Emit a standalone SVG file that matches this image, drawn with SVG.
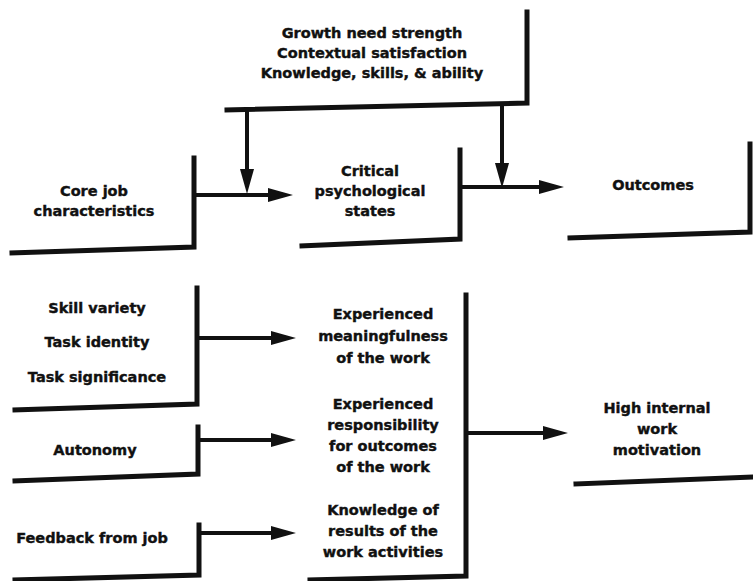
<svg xmlns="http://www.w3.org/2000/svg" width="753" height="581" viewBox="0 0 753 581">
<defs>
<style>
.t{font-family:"DejaVu Sans","Liberation Sans",sans-serif;font-weight:bold;font-size:14.5px;fill:#111;stroke:#111;stroke-width:0.4;text-anchor:middle}
.b{fill:none;stroke:#111;stroke-width:5;stroke-linecap:square}
.c{fill:none;stroke:#111;stroke-width:4}
</style>
<marker id="ah" markerUnits="userSpaceOnUse" markerWidth="26" markerHeight="16" refX="12" refY="7" orient="auto">
<path d="M0,0 L25,7 L0,14 z" fill="#111"/>
</marker>
</defs>
<rect width="753" height="581" fill="#fff"/>
<g id="moderators">
<path class="b" d="M527,12 L527,103 L227,110"/>
<text class="t" x="372" y="38">Growth need strength</text>
<text class="t" x="372" y="58">Contextual satisfaction</text>
<text class="t" x="372" y="78">Knowledge, skills, &amp; ability</text>
</g>
<g id="core">
<path class="b" d="M194,158 L194,247 L12,253"/>
<text class="t" x="94" y="196">Core job</text>
<text class="t" x="94" y="216">characteristics</text>
</g>
<g id="critical">
<path class="b" d="M460,150 L460,239 L302,246"/>
<text class="t" x="370" y="176">Critical</text>
<text class="t" x="370" y="196">psychological</text>
<text class="t" x="370" y="216">states</text>
</g>
<g id="outcomes">
<path class="b" d="M750,144 L750,232 L570,238"/>
<text class="t" x="653" y="190">Outcomes</text>
</g>
<g id="skills">
<path class="b" d="M197,288 L197,404 L15,410"/>
<text class="t" x="97" y="313">Skill variety</text>
<text class="t" x="97" y="347">Task identity</text>
<text class="t" x="97" y="382">Task significance</text>
</g>
<g id="autonomy">
<path class="b" d="M198,427 L198,474 L15,481"/>
<text class="t" x="95" y="455">Autonomy</text>
</g>
<g id="feedback">
<path class="b" d="M199,525 L199,575 L15,580"/>
<text class="t" x="92" y="543">Feedback from job</text>
</g>
<g id="states">
<path class="b" d="M466,295 L466,576 L310,580"/>
<text class="t" x="383" y="319">Experienced</text>
<text class="t" x="383" y="341">meaningfulness</text>
<text class="t" x="383" y="363">of the work</text>
<text class="t" x="383" y="409">Experienced</text>
<text class="t" x="383" y="430">responsibility</text>
<text class="t" x="383" y="451">for outcomes</text>
<text class="t" x="383" y="472">of the work</text>
<text class="t" x="383" y="515">Knowledge of</text>
<text class="t" x="383" y="536">results of the</text>
<text class="t" x="383" y="557">work activities</text>
</g>
<g id="motivation">
<path class="b" d="M576,484 L752,477"/>
<text class="t" x="657" y="413">High internal</text>
<text class="t" x="657" y="434">work</text>
<text class="t" x="657" y="455">motivation</text>
</g>
<g id="connectors">
<line class="c" x1="194" y1="195" x2="280" y2="195" marker-end="url(#ah)"/>
<line class="c" x1="247" y1="110" x2="247" y2="181" marker-end="url(#ah)"/>
<line class="c" x1="460" y1="187" x2="551" y2="187" marker-end="url(#ah)"/>
<line class="c" x1="502" y1="103" x2="502" y2="175" marker-end="url(#ah)"/>
<line class="c" x1="197" y1="338" x2="283" y2="338" marker-end="url(#ah)"/>
<line class="c" x1="198" y1="440" x2="283" y2="440" marker-end="url(#ah)"/>
<line class="c" x1="199" y1="533" x2="283" y2="533" marker-end="url(#ah)"/>
<line class="c" x1="466" y1="433" x2="555" y2="433" marker-end="url(#ah)"/>
</g>
</svg>
